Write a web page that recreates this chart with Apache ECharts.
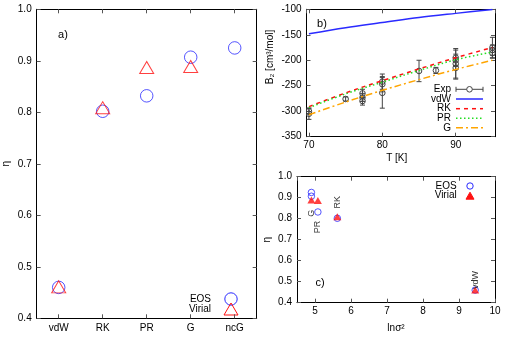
<!DOCTYPE html>
<html><head><meta charset="utf-8">
<script src="https://cdn.jsdelivr.net/npm/echarts@6/dist/echarts.min.js"></script>
<style>html,body{margin:0;padding:0;background:#fff}#c{width:507px;height:338px}</style>
</head><body><div id="c"></div>
<script>
// ---- data ----
const models = ['vdW', 'RK', 'PR', 'G', 'ncG'];
const etaEOS = [0.460, 0.802, 0.832, 0.907, 0.925];
const etaVirial = [0.461, 0.809, 0.887, 0.889, null];
const lnSigma2 = [9.45, 5.62, 5.08, 4.90, 4.90];
const pointLabels = ['vdW', 'RK', 'PR', 'G', ''];

const tGrid = [70, 75, 80, 85, 90, 95];
const b2vdW = [-148, -136, -126, -116, -108, -100.5];
const b2RK = [-291, -264, -240, -217, -195, -175];
const b2PR = [-293, -266, -243, -220, -199, -184];
const b2G = [-307, -282, -259, -238, -218, -200];

const expT = [70, 70, 75, 77.3, 77.3, 77.3, 80, 80, 80, 85, 87.3, 90, 90, 90, 90, 95, 95, 95];
const expB2 = [-305, -300, -276, -265, -273, -280, -242, -247, -264, -221, -220, -195, -200, -207, -215, -175, -180, -186];
const expErr = [11, 6, 4, 8, 8, 8, 15, 15, 30, 21, 6, 15, 12, 30, 20, 20, 10, 10];

// ---- styles ----
const FONT = 'Liberation Sans, Arial, Helvetica, sans-serif';
const BLUE = '#2a2aff', RED = '#ff1010', GREEN = '#22dd22', ORANGE = '#ffa500', EXPC = '#444';
// screen offset of the rotated point labels: rotate 90 turns local [x,y] into screen [y,-x]
const labelShiftY = { vdW: -10, RK: -16, PR: 15, G: 17 };

function axisBase(extra) {
  return Object.assign({
    axisLine: { show: true, onZero: false, lineStyle: { color: '#000', width: 1 } },
    axisTick: { show: true, inside: true, length: 4, lineStyle: { color: '#555', width: 1 } },
    axisLabel: { show: true, color: '#000', fontSize: 10, fontFamily: FONT, margin: 5 },
    splitLine: { show: false }
  }, extra);
}
function mirror(a) {
  const m = JSON.parse(JSON.stringify(a));
  m.axisLabel.show = false;
  delete m.name;
  delete m.nameTextStyle;
  return m;
}

const xa0 = axisBase({ type: 'category', gridIndex: 0, data: models, position: 'bottom', boundaryGap: true });
xa0.axisTick.alignWithLabel = true;
const xa1 = mirror(xa0); xa1.position = 'top';

const etaFmt = v => v.toFixed(1);
const ya0 = axisBase({ type: 'value', gridIndex: 0, min: 0.4, max: 1.0, interval: 0.1, position: 'left',
  name: 'η', nameLocation: 'middle', nameRotate: 90, nameGap: 25,
  nameTextStyle: { color: '#000', fontSize: 10, fontFamily: FONT } });
ya0.axisLabel.formatter = etaFmt;
const ya1 = mirror(ya0); ya1.position = 'right';

const xa2 = axisBase({ type: 'value', gridIndex: 1, min: 69.67, max: 95.35, splitNumber: 2, position: 'bottom',
  name: 'T [K]', nameLocation: 'middle', nameGap: 17,
  nameTextStyle: { color: '#000', fontSize: 10, fontFamily: FONT, padding: [0, 8, 0, 0] } });
xa2.axisLabel.showMinLabel = false; xa2.axisLabel.showMaxLabel = false; xa2.axisLabel.margin = 4;
const xa3 = mirror(xa2); xa3.position = 'top';

const ya2 = axisBase({ type: 'value', gridIndex: 1, min: -350, max: -100, interval: 50, position: 'left',
  name: 'B₂ [cm³/mol]', nameLocation: 'middle', nameRotate: 90, nameGap: 31,
  nameTextStyle: { color: '#000', fontSize: 10, fontFamily: FONT, padding: [0, 0, 0, 32] } });
const ya3 = mirror(ya2); ya3.position = 'right';

const xa4 = axisBase({ type: 'value', gridIndex: 2, min: 4.5, max: 10, splitNumber: 5, position: 'bottom',
  name: 'lnσ²', nameLocation: 'middle', nameGap: 21,
  nameTextStyle: { color: '#000', fontSize: 10, fontFamily: FONT } });
xa4.axisLabel.showMinLabel = false; xa4.axisLabel.margin = 4;
const xa5 = mirror(xa4); xa5.position = 'top';

const ya4 = axisBase({ type: 'value', gridIndex: 2, min: 0.4, max: 1.0, interval: 0.1, position: 'left',
  name: 'η', nameLocation: 'middle', nameRotate: 90, nameGap: 25,
  nameTextStyle: { color: '#000', fontSize: 10, fontFamily: FONT } });
ya4.axisLabel.formatter = etaFmt;
const ya5 = mirror(ya4); ya5.position = 'right';

const pairs = (xs, ys) => xs.map((x, i) => [x, ys[i]]);
const lineSeries = (name, ys, color, type) => ({
  type: 'line', name, xAxisIndex: 2, yAxisIndex: 2, data: pairs(tGrid, ys),
  symbol: 'none', smooth: 0.35, clip: true,
  lineStyle: { color, width: 1.5, type }, itemStyle: { color }
});

const cEOS = lnSigma2.map((x, i) => {
  const lab = pointLabels[i];
  const item = { value: [x, etaEOS[i]] };
  if (lab) item.label = { show: true, formatter: lab, position: 'inside', rotate: 90,
    offset: [-labelShiftY[lab], 0], color: '#000', fontSize: 9, fontFamily: FONT };
  return item;
});
const cVir = lnSigma2.map((x, i) => etaVirial[i] == null ? null : [x, etaVirial[i]]).filter(d => d);

// ---- legend drawn with graphic elements ----
const gtext = (x, y, text, size) => ({ type: 'text', x, y, silent: true,
  style: { text, fill: '#000', font: (size || 10) + 'px ' + FONT, align: 'right', verticalAlign: 'middle' } });
const gline = (x1, y1, x2, y2, color, dash, w) => ({ type: 'line', silent: true,
  shape: { x1, y1, x2, y2 }, style: { stroke: color, lineWidth: w || 1, lineDash: dash || null } });
const gcircle = (cx, cy, r, stroke, fill) => ({ type: 'circle', silent: true,
  shape: { cx, cy, r }, style: { stroke, fill: fill || 'none', lineWidth: 1 } });
const gtri = (cx, cy, w, h, stroke, fill) => ({ type: 'polygon', silent: true,
  shape: { points: [[cx, cy - h / 2], [cx + w / 2, cy + h / 2], [cx - w / 2, cy + h / 2]] },
  style: { stroke, fill: fill || 'none', lineWidth: 1 } });

const legendA = [
  gtext(211, 299, 'EOS'), gcircle(231, 299, 6.2, BLUE),
  gtext(211, 309, 'Virial'), gtri(231, 309, 14, 12, RED)
];
const lx1 = 456, lx2 = 483, ltx = 451;
const legendB = [
  gtext(ltx, 89.3, 'Exp'),
  gline(lx1, 89.3, lx2, 89.3, EXPC), gline(lx1, 86.8, lx1, 91.8, EXPC), gline(lx2, 86.8, lx2, 91.8, EXPC),
  gcircle((lx1 + lx2) / 2, 89.3, 2.8, EXPC, '#fff'),
  gtext(ltx, 99, 'vdW'), gline(lx1, 99, lx2, 99, BLUE, null, 1.5),
  gtext(ltx, 108.7, 'RK'), gline(lx1, 108.7, lx2, 108.7, RED, [4, 4], 1.5),
  gtext(ltx, 118.3, 'PR'), gline(lx1, 118.3, lx2, 118.3, GREEN, [1.5, 2.5], 1.5),
  gtext(ltx, 127.8, 'G'), gline(lx1, 127.8, lx2, 127.8, ORANGE, [7, 3, 2, 3], 1.5)
];
const legendC = [
  gtext(456.7, 186, 'EOS'), gcircle(470, 186, 3.2, BLUE),
  gtext(456.7, 195.7, 'Virial'), gtri(470, 195.7, 8, 7, RED, RED)
];
const panelTags = [
  { type: 'text', x: 63, y: 35, silent: true, style: { text: 'a)', fill: '#000', font: '11px ' + FONT, align: 'center', verticalAlign: 'middle' } },
  { type: 'text', x: 322, y: 24, silent: true, style: { text: 'b)', fill: '#000', font: '11px ' + FONT, align: 'center', verticalAlign: 'middle' } },
  { type: 'text', x: 320, y: 283, silent: true, style: { text: 'c)', fill: '#000', font: '11px ' + FONT, align: 'center', verticalAlign: 'middle' } }
];

const option = {
  animation: false,
  backgroundColor: '#fff',
  grid: [
    { left: 36.7, top: 9.3, width: 220, height: 309 },
    { left: 306.5, top: 9.3, width: 188.5, height: 127.4 },
    { left: 297, top: 176.7, width: 198, height: 126 }
  ],
  xAxis: [xa0, xa1, xa2, xa3, xa4, xa5],
  yAxis: [ya0, ya1, ya2, ya3, ya4, ya5],
  graphic: [].concat(panelTags, legendA, legendB, legendC),
  series: [
    { type: 'scatter', name: 'EOS', xAxisIndex: 0, yAxisIndex: 0, data: etaEOS,
      symbol: 'circle', symbolSize: 12.5,
      itemStyle: { color: 'rgba(0,0,0,0)', borderColor: BLUE, borderWidth: 1 } },
    { type: 'scatter', name: 'Virial', xAxisIndex: 0, yAxisIndex: 0, data: etaVirial,
      symbol: 'triangle', symbolSize: [14, 12],
      itemStyle: { color: 'rgba(0,0,0,0)', borderColor: RED, borderWidth: 1 } },

    { type: 'custom', name: 'Exp', xAxisIndex: 2, yAxisIndex: 2, clip: true,
      data: expT.map((t, i) => [t, expB2[i], expErr[i]]),
      encode: { x: 0, y: 1 },
      itemStyle: { color: EXPC },
      renderItem: function (params, api) {
        const t = api.value(0), b = api.value(1), e = api.value(2);
        const p = api.coord([t, b]);
        const lo = api.coord([t, b - e]);
        const hi = api.coord([t, b + e]);
        const cap = 2.5, r = 2.8;
        const st = { stroke: EXPC, lineWidth: 1, fill: null };
        return { type: 'group', children: [
          { type: 'line', shape: { x1: p[0], y1: hi[1], x2: p[0], y2: lo[1] }, style: st },
          { type: 'line', shape: { x1: p[0] - cap, y1: hi[1], x2: p[0] + cap, y2: hi[1] }, style: st },
          { type: 'line', shape: { x1: p[0] - cap, y1: lo[1], x2: p[0] + cap, y2: lo[1] }, style: st },
          { type: 'circle', shape: { cx: p[0], cy: p[1], r: r }, style: { stroke: EXPC, lineWidth: 1, fill: 'none' } }
        ] };
      } },
    lineSeries('vdW', b2vdW, BLUE, 'solid'),
    lineSeries('RK', b2RK, RED, [4, 4]),
    lineSeries('PR', b2PR, GREEN, [1.5, 2.5]),
    lineSeries('G', b2G, ORANGE, [7, 3, 2, 3]),

    { type: 'scatter', name: 'EOS', xAxisIndex: 4, yAxisIndex: 4, data: cEOS,
      symbol: 'circle', symbolSize: 6.5,
      itemStyle: { color: 'rgba(0,0,0,0)', borderColor: BLUE, borderWidth: 1 } },
    { type: 'scatter', name: 'Virial', xAxisIndex: 4, yAxisIndex: 4, data: cVir,
      symbol: 'triangle', symbolSize: [8, 7],
      itemStyle: { color: RED } }
  ]
};

const chart = echarts.init(document.getElementById('c'), null, { renderer: 'canvas' });
chart.setOption(option);
</script>
</body></html>
